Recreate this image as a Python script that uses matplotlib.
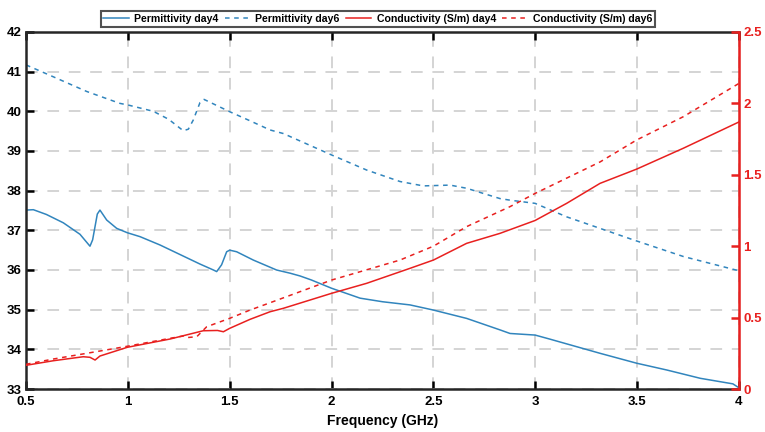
import matplotlib
matplotlib.use('Agg')
import matplotlib.pyplot as plt
import numpy as np

plt.rcParams['font.family'] = ['Liberation Sans', 'DejaVu Sans']
plt.rcParams['font.weight'] = 'bold'

# permittivity, day 4 (left axis)
f_p4 = [0.5, 0.536, 0.6, 0.683, 0.765, 0.814, 0.827, 0.85, 0.863, 0.896, 0.945, 0.997,
        1.06, 1.158, 1.305, 1.354, 1.42, 1.436, 1.46, 1.485, 1.5, 1.534, 1.616, 1.73,
        1.796, 1.845, 1.9, 2.0, 2.14, 2.25, 2.385, 2.5, 2.663, 2.827, 2.876, 2.999,
        3.07, 3.318, 3.498, 3.645, 3.81, 3.97, 4.0]
p4 = [37.51, 37.52, 37.4, 37.19, 36.9, 36.6, 36.76, 37.41, 37.51, 37.26, 37.05, 36.94,
      36.84, 36.63, 36.27, 36.15, 36.0, 35.96, 36.13, 36.46, 36.5, 36.46, 36.25, 36.0,
      35.92, 35.85, 35.75, 35.54, 35.29, 35.2, 35.12, 34.99, 34.78, 34.49, 34.40, 34.36,
      34.26, 33.9, 33.65, 33.48, 33.27, 33.13, 33.03]

# permittivity, day 6 (left axis)
f_p6 = [0.5, 0.634, 0.798, 0.961, 1.0, 1.125, 1.2, 1.272, 1.297, 1.321, 1.354, 1.374,
        1.5, 1.6, 1.698, 1.763, 2.0, 2.172, 2.336, 2.45, 2.582, 2.663, 2.827, 2.876,
        2.999, 3.154, 3.481, 3.727, 4.0]
p6 = [41.17, 40.87, 40.5, 40.2, 40.16, 40.0, 39.8, 39.51, 39.55, 39.78, 40.22, 40.3,
      39.99, 39.76, 39.53, 39.44, 38.9, 38.52, 38.23, 38.12, 38.14, 38.06, 37.8, 37.76,
      37.68, 37.34, 36.76, 36.34, 35.98]

# conductivity (S/m), day 4 (right axis)
f_c4 = [0.5, 0.634, 0.781, 0.814, 0.839, 0.863, 0.997, 1.207, 1.37, 1.44, 1.469, 1.5,
        1.6, 1.698, 1.763, 2.0, 2.172, 2.385, 2.5, 2.663, 2.827, 2.999, 3.154, 3.318,
        3.498, 3.727, 4.0]
c4 = [0.166, 0.198, 0.226, 0.222, 0.203, 0.231, 0.292, 0.35, 0.408, 0.41, 0.401, 0.425,
      0.488, 0.541, 0.565, 0.67, 0.74, 0.845, 0.903, 1.02, 1.09, 1.18, 1.30, 1.44,
      1.54, 1.686, 1.87]

# conductivity (S/m), day 6 (right axis)
f_c6 = [0.5, 0.634, 0.798, 1.0, 1.207, 1.272, 1.289, 1.338, 1.387, 1.5, 1.6, 1.698,
        2.0, 2.336, 2.5, 2.663, 2.876, 3.0, 3.318, 3.498, 3.727, 4.0]
c6 = [0.173, 0.21, 0.25, 0.30, 0.355, 0.371, 0.36, 0.366, 0.436, 0.495, 0.553, 0.604,
      0.763, 0.903, 1.0, 1.137, 1.277, 1.37, 1.59, 1.744, 1.907, 2.14]

blue = '#3185bd'
red = '#e8201f'
grid_c = '#d4d4d4'

fig = plt.figure(figsize=(7.65, 4.32), dpi=100)
ax = fig.add_axes([0.034, 0.0995, 0.932, 0.8265])
ax2 = ax.twinx()

l1, = ax.plot(f_p4, p4, color=blue, lw=1.1, label='Permittivity day4')
l2, = ax.plot(f_p6, p6, color=blue, lw=1.1, ls=(0, (3, 3)), label='Permittivity day6')
l3, = ax2.plot(f_c4, c4, color=red, lw=1.1, label='Conductivity (S/m) day4')
l4, = ax2.plot(f_c6, c6, color=red, lw=1.1, ls=(0, (3, 3)), label='Conductivity (S/m) day6')

ax.set_xlim(0.5, 4)
ax.set_ylim(33, 42)
ax2.set_ylim(0, 2.5)
ax.set_xticks(np.arange(0.5, 4.01, 0.5))
ax.set_xticklabels(['0.5', '1', '1.5', '2', '2.5', '3', '3.5', '4'])
ax.set_yticks(range(33, 43))
ax2.set_yticks([0, 0.5, 1, 1.5, 2, 2.5])
ax2.set_yticklabels(['0', '0.5', '1', '1.5', '2', '2.5'])

ax.grid(True, color=grid_c, ls=(0, (6, 5)), lw=1.4)
ax.set_axisbelow(True)

ax.tick_params(axis='x', direction='in', top=True, length=6, width=1.8, labelsize=9.5, pad=5)
ax.tick_params(axis='y', direction='in', right=False, length=6, width=1.8, labelsize=9.5, pad=3)
ax2.tick_params(axis='y', direction='in', length=6, width=1.8, colors=red, labelsize=9.5, pad=3)

for s in ['left', 'bottom', 'top']:
    ax.spines[s].set_linewidth(1.8)
    ax.spines[s].set_color('#262626')
ax2.spines['right'].set_color(red)
ax2.spines['right'].set_linewidth(1.8)
for s in ['left', 'bottom', 'top']:
    ax2.spines[s].set_visible(False)

ax.set_xlabel('Frequency (GHz)', fontsize=10, fontweight='bold', labelpad=4)

leg = fig.legend(handles=[l1, l2, l3, l4], loc='center', bbox_to_anchor=(0.494, 0.956),
                 ncol=4, fontsize=7.6, frameon=True, fancybox=False, handlelength=2.4,
                 handletextpad=0.5, columnspacing=0.6, borderpad=0.25, borderaxespad=0.2)
leg.get_frame().set_edgecolor('#262626')
leg.get_frame().set_linewidth(1.5)
for t in leg.get_texts():
    t.set_fontweight('bold')

fig.savefig('out.png', dpi=100)
